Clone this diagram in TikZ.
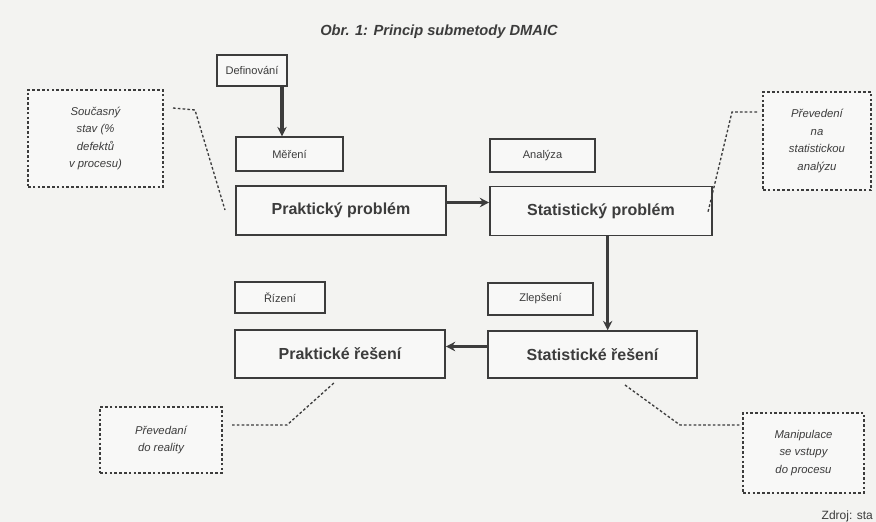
\documentclass[tikz,border=0pt]{standalone}
\usepackage{fontspec}
\setmainfont{Liberation Sans}
\usetikzlibrary{arrows.meta,calc}
\definecolor{bg}{HTML}{F3F3F1}
\definecolor{ink}{HTML}{3C3C3C}
\definecolor{boxfill}{HTML}{F8F8F7}
\tikzset{
  mainbox/.style={draw=ink, line width=1.2pt, fill=boxfill, text=ink,
    font=\fontsize{12}{13}\selectfont\bfseries, inner sep=0pt, align=center},
  phasebox/.style={draw=ink, line width=1.1pt, fill=boxfill, text=ink,
    font=\fontsize{8.3}{9}\selectfont, inner sep=0pt, align=center},
  notebox/.style={draw=ink, line width=1pt, dash pattern=on 2pt off 1.6pt,
    fill=boxfill, text=ink, font=\fontsize{8.5}{13.2}\selectfont\itshape,
    inner sep=0pt, align=center},
  flow/.style={draw=ink, line width=2.3pt, -{Stealth[length=7pt,width=7pt]}},
  noteline/.style={draw=ink, line width=1pt, dash pattern=on 2pt off 1.6pt},
}
\begin{document}
\begin{tikzpicture}[x=0.75pt,y=-0.75pt]
\fill[bg] (0,0) rectangle (876,522);
\useasboundingbox (0,0) rectangle (876,522);

\node[text=ink, font=\fontsize{11}{12}\selectfont\bfseries\itshape] (title) at (439,32) {Obr. 1: Princip submetody DMAIC};

% phase labels
\node[phasebox, minimum width=70*0.75pt, minimum height=31*0.75pt] (def) at (252,70.5) {Definování};
\node[phasebox, minimum width=107*0.75pt, minimum height=34*0.75pt] (mer) at (289.5,154) {Měření};
\node[phasebox, minimum width=105*0.75pt, minimum height=33*0.75pt] (ana) at (542.5,155.5) {Analýza};
\node[phasebox, minimum width=90*0.75pt, minimum height=31*0.75pt] (riz) at (280,297.5) {Řízení};
\node[phasebox, minimum width=105*0.75pt, minimum height=32*0.75pt] (zle) at (540.5,299) {Zlepšení};

% main boxes
\node[mainbox, minimum width=210*0.75pt, minimum height=49*0.75pt] (pp) at (341,210.5) {Praktický problém};
\node[mainbox, minimum width=222*0.75pt, minimum height=49*0.75pt] (sp) at (601,211) {Statistický problém};
\node[mainbox, minimum width=210*0.75pt, minimum height=48*0.75pt] (pr) at (340,354) {Praktické řešení};
\node[mainbox, minimum width=209*0.75pt, minimum height=47*0.75pt] (sr) at (592.5,354.5) {Statistické řešení};

% note boxes
\node[notebox, minimum width=135*0.75pt, minimum height=97*0.75pt] (sou) at (95.5,138.5) {Současný\\stav (\%\\defektů\\v procesu)};
\node[notebox, minimum width=108*0.75pt, minimum height=98*0.75pt] (prev) at (817,141) {Převedení\\na\\statistickou\\analýzu};
\node[notebox, minimum width=122*0.75pt, minimum height=66*0.75pt] (real) at (161,440) {Převedaní\\do reality};
\node[notebox, minimum width=121*0.75pt, minimum height=80*0.75pt] (man) at (803.5,453) {Manipulace\\se vstupy\\do procesu};

% flow arrows
\draw[flow] ([xshift=22.5pt]def.south) -- ([xshift=22.5pt]def.south |- mer.north);
\draw[flow] ([yshift=6pt]pp.east) -- ([yshift=6pt]pp.east -| sp.west);
\draw[flow] ([xshift=5pt]sp.south) -- ([xshift=5pt]sp.south |- sr.north);
\draw[flow] ([yshift=6pt]sr.west) -- ([yshift=6pt]sr.west -| pr.east);

% dashed leaders
\coordinate (a1) at (173,108);
\coordinate (a2) at (195,110);
\coordinate (a3) at (225,210);
\draw[noteline] (a1) -- (a2) -- (a3);

\coordinate (b1) at (757,112);
\coordinate (b2) at (732,112);
\coordinate (b3) at (708,212);
\draw[noteline] (b1) -- (b2) -- (b3);

\coordinate (c1) at (232,425);
\coordinate (c2) at (287,425);
\coordinate (c3) at (335,382);
\draw[noteline] (c1) -- (c2) -- (c3);

\coordinate (d1) at (625,385);
\coordinate (d2) at (680,425);
\coordinate (d3) at (740,425);
\draw[noteline] (d1) -- (d2) -- (d3);

\node[text=ink, font=\fontsize{9}{10}\selectfont, anchor=west] (src) at (817,516) {Zdroj: sta};
\end{tikzpicture}
\end{document}
